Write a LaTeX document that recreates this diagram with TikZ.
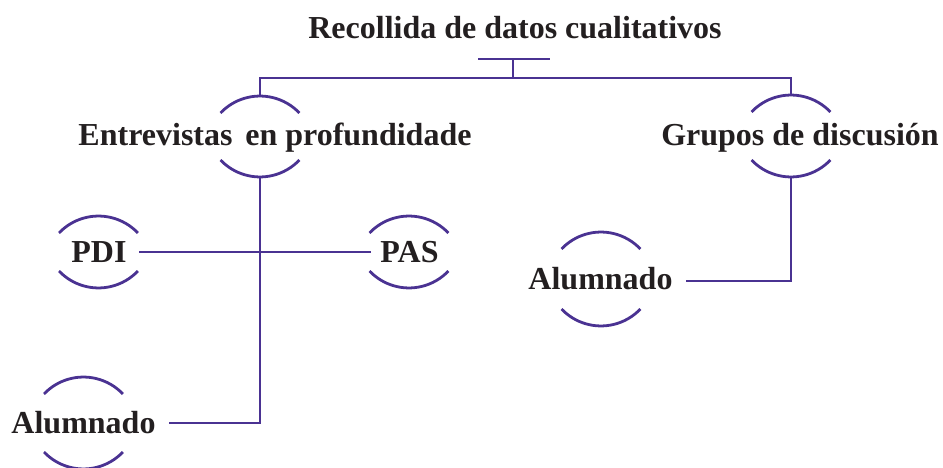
\documentclass[tikz,border=0pt]{standalone}
\usepackage{fontspec}
\setmainfont{Liberation Serif}
\usetikzlibrary{calc}
\definecolor{lnc}{RGB}{74,50,146}
\definecolor{txc}{RGB}{35,31,32}
\tikzset{
  ln/.style={draw=lnc,line width=2.8pt},
  lbl/.style={anchor=base,inner sep=0pt,text=txc,font=\fontsize{32}{38}\selectfont\bfseries},
}
\newcommand\MyTopArc[1]{\draw[ln] ($(#1)+(-39.5,17)$) arc[start angle=223.5,end angle=316.5,radius=54.4];}
\newcommand\MyBotArc[1]{\draw[ln] ($(#1)+(-39.5,-17)$) arc[start angle=136.5,end angle=43.5,radius=54.4];}
\begin{document}
\begin{tikzpicture}[x=1pt,y=-1pt]
\useasboundingbox (0,0) rectangle (943,468);
% text nodes
\node[lbl] (title) at (515,38.5) {Recollida de datos cualitativos};
\node[lbl] (ent) at (275,145.5) {Entrevistas\hspace{0.15em} en profundidade};
\node[lbl] (gru) at (800,145.5) {Grupos de discusión};
\node[lbl] (pdi) at (99,262.5) {PDI};
\node[lbl] (pas) at (409.5,262.5) {PAS};
\node[lbl] (alu2) at (600.5,289) {Alumnado};
\node[lbl] (alu1) at (83.5,433) {Alumnado};
% arc apexes
\coordinate (entT) at (260,96);  \coordinate (entB) at (260,177);
\coordinate (gruT) at (791,95);  \coordinate (gruB) at (791,177);
\coordinate (pdiT) at (98.5,216); \coordinate (pdiB) at (98.5,288);
\coordinate (pasT) at (409,216);  \coordinate (pasB) at (409,288);
\coordinate (aluAT) at (83.5,377); \coordinate (aluAB) at (83.5,469);
\coordinate (aluBT) at (601,232);  \coordinate (aluBB) at (601,326);
\foreach \n in {ent,gru,pdi,pas,aluA,aluB}{\MyTopArc{\n T}\MyBotArc{\n B}}
% connector points
\coordinate (tl) at (478,59); \coordinate (tr) at (550,59);
\coordinate (tm) at (513,59); \coordinate (hub) at (513,78);
\coordinate (bl) at (260,78); \coordinate (br) at (791,78);
\coordinate (pdiR) at (139,252); \coordinate (pasL) at (371,252);
\coordinate (e1) at (260,423); \coordinate (aluAR) at (169,423);
\coordinate (e2) at (791,281); \coordinate (aluBR) at (686,281);
% connectors
\draw[ln] (tl) -- (tr);
\draw[ln] (tm) -- (hub);
\draw[ln] (entT) -- (bl) -- (br) -- (gruT);
\draw[ln] (pdiR) -- (pasL);
\draw[ln] (entB) -- (e1) -- (aluAR);
\draw[ln] (gruB) -- (e2) -- (aluBR);
\end{tikzpicture}
\end{document}
